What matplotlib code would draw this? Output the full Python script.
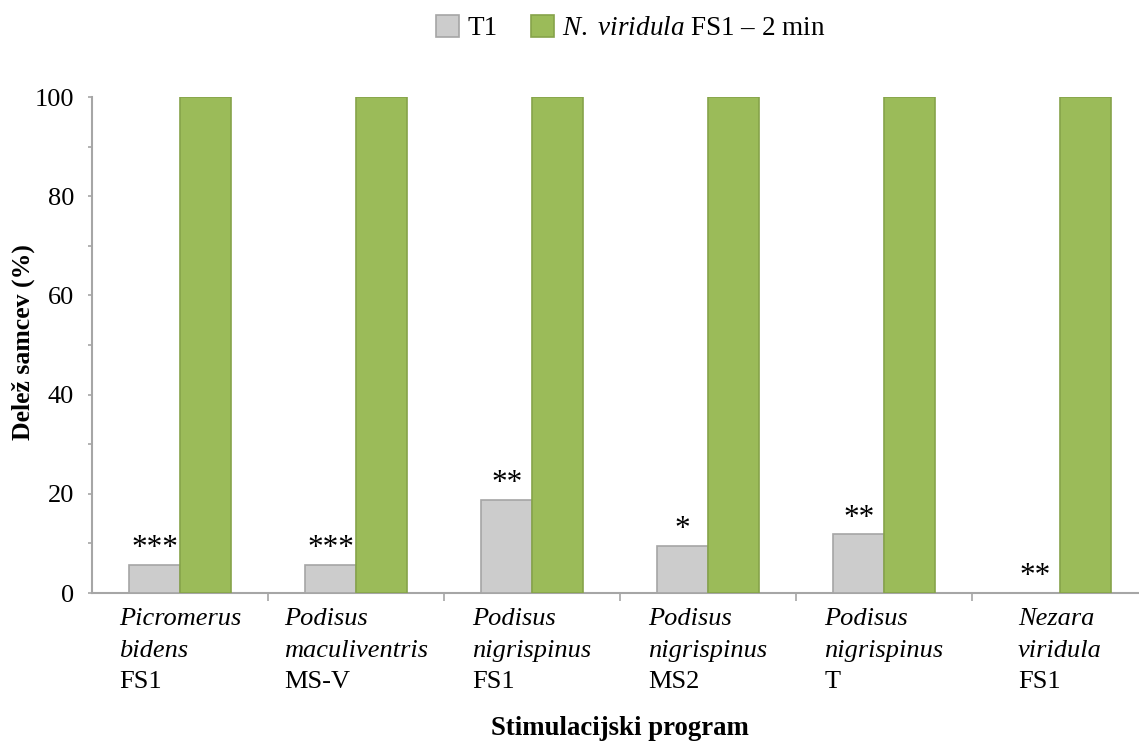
import matplotlib
matplotlib.use("Agg")
import matplotlib.pyplot as plt
import numpy as np

plt.rcParams['font.family'] = ['Liberation Serif', 'DejaVu Serif']
plt.rcParams['mathtext.fontset'] = 'custom'
plt.rcParams['mathtext.rm'] = 'Liberation Serif'
plt.rcParams['mathtext.it'] = 'Liberation Serif:italic'

line1 = ["Picromerus", "Podisus", "Podisus", "Podisus", "Podisus", "Nezara"]
line2 = ["bidens", "maculiventris", "nigrispinus", "nigrispinus", "nigrispinus", "viridula"]
line3 = ["FS1", "MS-V", "FS1", "MS2", "T", "FS1"]
t1 = [5.6, 5.6, 18.8, 9.4, 11.8, 0.0]
nv = [100, 100, 100, 100, 100, 100]
stars = ["***", "***", "**", "*", "**", "**"]
yticks = [0, 20, 40, 60, 80, 100]

fig = plt.figure(figsize=(11.39, 7.44), dpi=100)
ax = fig.add_axes([92/1139, 1-593/744, 1056/1139, 496/744])

x = np.arange(len(line1))
w = 0.287
ax.bar(x - w/2, t1, w, color='#cccccc', edgecolor='#a5a5a5', linewidth=1.2, label='T1', zorder=3)
ax.bar(x + w/2, nv, w, color='#9bbb59', edgecolor='#86a34a', linewidth=1.2,
       label=r'$\it{N.}$ $\it{viridula}$ FS1 – 2 min', zorder=3)

for xi, v, s in zip(x, t1, stars):
    ax.text(xi - w/2, v + 1.8, s, ha='center', va='baseline', fontsize=22.5)

ax.set_xlim(-0.5, len(line1) - 0.5)
ax.set_ylim(0, 100)
ax.set_yticks(yticks)
ax.set_yticks(np.arange(10, 100, 20), minor=True)
ax.set_yticklabels([str(v) for v in yticks], fontsize=19)
ax.set_xticks(np.arange(0.5, len(line1)))
ax.set_xticklabels([])
ax.tick_params(axis='y', which='both', direction='out', length=3, width=1.2, color='#a6a6a6', pad=10)
ax.tick_params(axis='x', direction='out', length=6, width=1.2, color='#a6a6a6')

for sp in ['top', 'right']:
    ax.spines[sp].set_visible(False)
for sp in ['left', 'bottom']:
    ax.spines[sp].set_color('#a6a6a6')
    ax.spines[sp].set_linewidth(1.5)

# category labels: block centred on group, lines left-aligned
fig.canvas.draw()
renderer = fig.canvas.get_renderer()
trans = ax.get_xaxis_transform()
for xi, a, b, c in zip(x, line1, line2, line3):
    items = []
    for txt, dy, st in [(a, 32, 'italic'), (b, 64, 'italic'), (c, 95, 'normal')]:
        t = ax.annotate(txt, xy=(xi, 0), xycoords=trans, xytext=(0, -dy),
                        textcoords='offset pixels', ha='left', va='baseline',
                        fontsize=19, style=st, annotation_clip=False)
        items.append((t, dy))
    maxw = max(t.get_window_extent(renderer).width for t, _ in items)
    for t, dy in items:
        t.set_position((-maxw/2, -dy))

fig.text(23/1139, 1-342/744, 'Delež samcev (%)', rotation=90, ha='center', va='center',
         fontsize=18.5, fontweight='bold')
ax.annotate('Stimulacijski program', xy=(0.5, 0), xycoords='axes fraction',
            xytext=(0, -(735-593)), textcoords='offset pixels', ha='center', va='baseline',
            fontsize=19.3, fontweight='bold', annotation_clip=False)

leg = fig.legend(loc='center', bbox_to_anchor=(631/1139, 1-28/744), ncol=2, frameon=False,
                 fontsize=19.5, handlelength=0.85, handleheight=0.85, columnspacing=1.25,
                 handletextpad=0.3)

fig.savefig('out.png', dpi=100)
